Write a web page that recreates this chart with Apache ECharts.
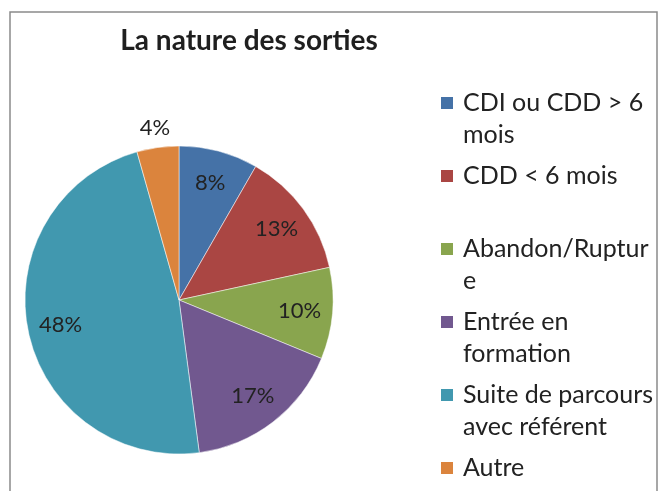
<!DOCTYPE html>
<html>
<head>
<meta charset="utf-8">
<script src="https://cdn.jsdelivr.net/npm/echarts@6/dist/echarts.min.js"></script>
<style>
  html, body { margin: 0; padding: 0; background: #fff; }
  #chart { width: 659px; height: 491px; }
</style>
</head>
<body>
<div id="chart"></div>
<script>
// données du graphique
let categories = ['CDI ou CDD > 6 mois', 'CDD < 6 mois', 'Abandon/Rupture', 'Entrée en formation', 'Suite de parcours avec référent', 'Autre'];
let values = [8.3, 13.3, 9.6, 16.7, 47.7, 4.4];
let legendLabels = ['CDI ou CDD > 6\nmois', 'CDD < 6 mois\n ', 'Abandon/Ruptur\ne', 'Entrée en\nformation', 'Suite de parcours\navec référent', 'Autre\n '];
let colors = ['#4572A7', '#AA4643', '#89A54E', '#71588F', '#4198AF', '#DB843D'];

window.onload = function() {
  drawChart();
}

function drawChart() {
  var myChart = echarts.init(document.getElementById('chart'));

  var pieData = categories.map(function(name, i) {
    return { name: name, value: values[i], itemStyle: { color: colors[i] } };
  });

  // anneau transparent : sert seulement à placer les étiquettes plus loin du centre
  var labelData = categories.map(function(name, i) {
    var item = { name: name, value: values[i] };
    if (name === 'Autre') {
      item.label = { position: 'outside', distanceToLabelLine: -15 };
      item.labelLine = { show: false, length: 20, length2: 0 };
    }
    return item;
  });

  var option = {
    animation: false,
    textStyle: { fontFamily: 'Lato' },
    graphic: [{
      type: 'rect',
      shape: { x: 10, y: 12, width: 647, height: 500 },
      style: { fill: 'none', stroke: '#8a8a8a', lineWidth: 1.5 },
      silent: true
    }],
    title: {
      text: 'La nature des sorties',
      left: 244,
      top: 22,
      textAlign: 'center',
      textStyle: { fontFamily: 'Lato', fontWeight: 'bold', fontSize: 28, color: '#1f1f1f' }
    },
    legend: {
      orient: 'vertical',
      left: 439,
      top: 55,
      height: 600,
      padding: 0,
      icon: 'rect',
      itemWidth: 14,
      itemHeight: 14,
      itemGap: -23,
      data: categories,
      // ligne vide en tête pour que le carré soit en face de la première ligne
      formatter: function(name) {
        return ' \n' + legendLabels[categories.indexOf(name)];
      },
      textStyle: {
        fontFamily: 'Lato',
        fontSize: 25,
        lineHeight: 32,
        color: '#222',
        padding: [0, 0, 0, 4]
      }
    },
    series: [
      {
        type: 'pie',
        center: [179, 300],
        radius: 154,
        startAngle: 90,
        label: { show: false },
        labelLine: { show: false },
        itemStyle: { borderColor: '#fff', borderWidth: 0.5 },
        data: pieData
      },
      {
        type: 'pie',
        center: [179, 300],
        radius: [82, 154],
        startAngle: 90,
        silent: true,
        itemStyle: { color: 'rgba(0,0,0,0)' },
        label: {
          show: true,
          position: 'inside',
          fontFamily: 'Lato',
          fontSize: 22,
          color: '#222',
          formatter: function(p) { return Math.round(p.value) + '%'; }
        },
        labelLine: { show: false },
        data: labelData
      }
    ]
  };
  myChart.setOption(option);
}
</script>
</body>
</html>
